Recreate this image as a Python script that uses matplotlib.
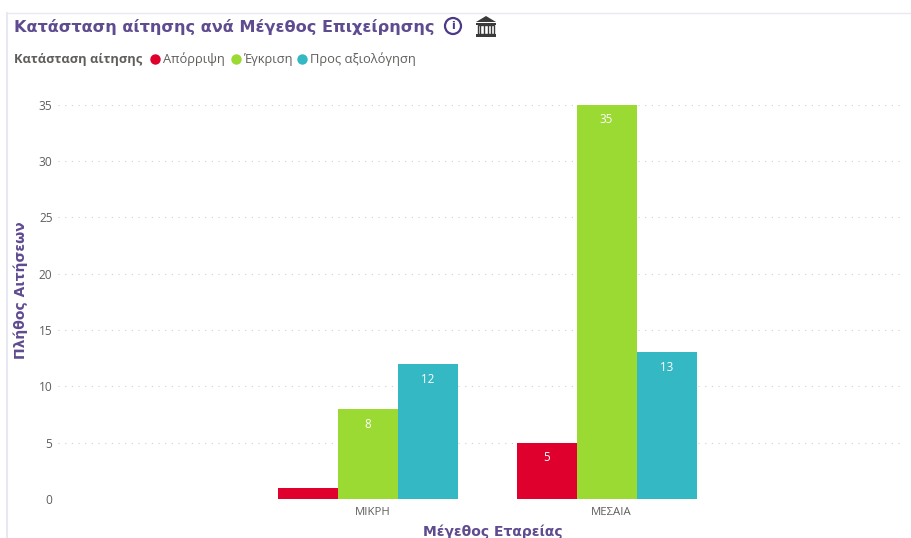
import matplotlib
matplotlib.use("Agg")
import matplotlib.pyplot as plt
from matplotlib.patches import Circle, Polygon, Rectangle
from matplotlib.lines import Line2D
from matplotlib.transforms import ScaledTranslation
import numpy as np

W, H = 912, 538

categories = ["ΜΙΚΡΗ", "ΜΕΣΑΙΑ"]
series_names = ["Απόρριψη", "Έγκριση", "Προς αξιολόγηση"]
rejected = [1, 5]
approved = [8, 35]
pending = [12, 13]
colors = ["#E0002D", "#9BD933", "#33B8C4"]
y_ticks = [0, 5, 10, 15, 20, 25, 30, 35]

title = "Κατάσταση αίτησης ανά Μέγεθος Επιχείρησης"
legend_title = "Κατάσταση αίτησης"
x_label = "Μέγεθος Εταρείας"
y_label = "Πλήθος Αιτήσεων"

purple = "#5F4B8F"
grey = "#605E5C"

plt.rcParams["font.family"] = ["Open Sans", "DejaVu Sans"]

fig = plt.figure(figsize=(W / 100, H / 100), dpi=100)


def fx(x):
    return x / W


def fy(y):
    return 1 - y / H


# axes placed in pixels, 35 is at the very top
ax = fig.add_axes([fx(58), fy(499), (905 - 58) / W, (499 - 104.5) / H])
step = 238.5
ax.set_xlim((58 - 368) / step, (905 - 368) / step)
ax.set_ylim(0, 35)
ax.patch.set_alpha(0)
for s in ax.spines.values():
    s.set_visible(False)

x = np.arange(len(categories))
width = 60 / step
for i, vals in enumerate([rejected, approved, pending]):
    bars = ax.bar(x + (i - 1) * width, vals, width, color=colors[i], zorder=3,
                  clip_on=False)
    for b, v in zip(bars, vals):
        if v < 2:
            continue
        ax.annotate(str(v), (b.get_x() + b.get_width() / 2, v), xytext=(0, -11),
                    textcoords="offset points", ha="center", va="center",
                    color="white", fontsize=8.4, zorder=4)

ax.set_yticks(y_ticks)
ax.set_xticks(x, categories)
ax.tick_params(axis="both", length=0)
ax.tick_params(axis="y", labelsize=8.6, labelcolor=grey, pad=4)
ax.tick_params(axis="x", labelsize=8.2, labelcolor=grey, pad=6)
ax.grid(axis="y", color="#CFCFCF", linestyle=(0, (1, 5)), linewidth=0.8, zorder=0)
ax.set_axisbelow(True)

# x labels sit a bit right of the bar groups in the original
shift = ScaledTranslation(5 / 100, 0, fig.dpi_scale_trans)
for lab in ax.get_xticklabels():
    lab.set_transform(lab.get_transform() + shift)

# card border
fig.add_artist(Line2D([fx(7), fx(912)], [fy(13), fy(13)], color="#E8E8F2", lw=1))
fig.add_artist(Line2D([fx(7), fx(7)], [fy(13), fy(538)], color="#E8E8F2", lw=1.5))

fig.text(fx(14), fy(27), title, family=["DejaVu Sans"], fontweight="bold", fontsize=11.65,
         color=purple, va="center", ha="left")
fig.text(fx(14), fy(59), legend_title, fontweight="bold", fontsize=9.25, color=grey,
         va="center", ha="left")

legend_dots = [155.5, 236, 302.5]
legend_text = [163, 243, 310]
for dx, tx, name, c in zip(legend_dots, legend_text, series_names, colors):
    fig.add_artist(Line2D([fx(dx)], [fy(59)], marker="o", ms=7.5, mec="none", color=c))
    fig.text(fx(tx), fy(59), name, fontsize=9.3, color=grey, va="center", ha="left")

fig.text(fx(493), fy(532), x_label, family=["DejaVu Sans"], fontweight="bold", fontsize=10,
         color=purple, ha="center", va="center")
fig.text(fx(21), fy(290), y_label, family=["DejaVu Sans"], fontweight="bold", fontsize=10,
         color=purple, rotation=90, ha="center", va="center")

# info icon
icon = fig.add_axes([0, 0, 1, 1])
icon.set_xlim(0, W)
icon.set_ylim(H, 0)
icon.axis("off")
icon.patch.set_alpha(0)
icon.add_patch(Circle((453, 26), 8, fill=False, ec="#4B3A86", lw=1.6))
icon.text(453, 26, "i", family=["DejaVu Sans"], fontweight="bold", fontsize=8, color="#4B3A86",
          ha="center", va="center")

# bank icon
dark = "#3A3A3A"
icon.add_patch(Polygon([[476, 22], [486, 16], [496, 22]], closed=True, color=dark, lw=0))
icon.add_patch(Rectangle((476, 22.5), 20, 2, color=dark, lw=0))
icon.add_patch(Rectangle((478, 25), 16, 9, fill=False, ec=dark, lw=1))
for col in [480.5, 484, 488, 491.5]:
    icon.add_line(Line2D([col, col], [25, 34], color=dark, lw=1))
icon.add_patch(Rectangle((476, 34), 20, 2.5, color=dark, lw=0))

fig.savefig("out.png", dpi=100)
